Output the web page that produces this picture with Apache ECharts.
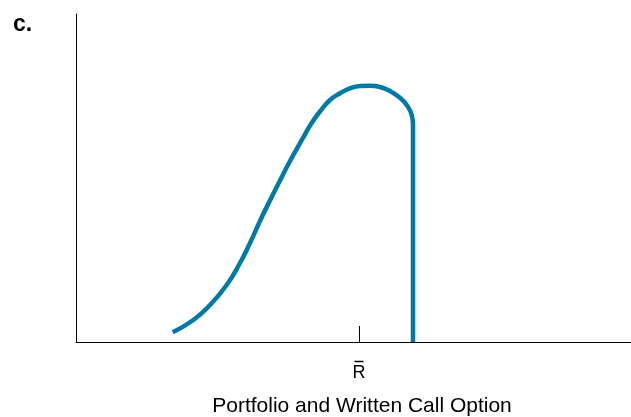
<!DOCTYPE html>
<html>
<head>
<meta charset="utf-8">
<script src="https://cdn.jsdelivr.net/npm/echarts@6/dist/echarts.min.js"></script>
<style>html,body{margin:0;padding:0;background:#fff}#c{width:631px;height:417px}</style>
</head>
<body>
<div id="c"></div>
<script>
// Curve: portfolio plus written call (x = return, y = probability density, arbitrary units)
const curveX = [17.42, 21.14, 24.14, 27.15, 29.55, 31.35, 33.15, 35.26, 36.76, 38.56, 40.90, 42.34, 43.96, 45.77, 47.57, 49.37, 51.17, 52.97, 54.77, 56.58, 58.38, 59.59, 60.49, 60.72];
const curveY = [2.96, 6.71, 11.28, 17.38, 24.09, 30.18, 36.89, 44.21, 49.24, 55.18, 62.20, 66.46, 70.27, 73.78, 75.82, 77.35, 78.05, 78.14, 77.74, 76.52, 74.48, 72.26, 69.21, 66.16];
// Vertical drop at the strike
const dropX = [60.72, 60.72];
const dropY = [66.16, 0];
const rBarValue = 51;
const rBarLabel = 'R';
const panelLabel = 'c.';
const axisTitle = 'Portfolio and Written Call Option';

const chart = echarts.init(document.getElementById('c'), null, {renderer: 'canvas'});
const blue = '#0079a8';
chart.setOption({
  animation: false,
  title: [
    {text: panelLabel, left: 8, top: 8, textStyle: {fontFamily: 'Liberation Sans', fontWeight: 'bold', fontSize: 23, color: '#000'}},
    {text: axisTitle, left: 357, top: 391, textAlign: 'center', textStyle: {fontFamily: 'Liberation Sans', fontWeight: 'normal', fontSize: 21, color: '#000'}}
  ],
  grid: {left: 76, right: 0, top: 14, bottom: 75},
  xAxis: {
    type: 'value', min: 0, max: 100,
    axisLine: {show: true, lineStyle: {color: '#000', width: 1}},
    splitLine: {show: false},
    axisTick: {show: true, inside: true, length: 16, customValues: [rBarValue], lineStyle: {color: '#000', width: 1}},
    axisLabel: {
      show: true, customValues: [rBarValue], margin: 17,
      formatter: () => '{bar| }\n{r|' + rBarLabel + '}',
      rich: {
        bar: {width: 9, height: 1.5, backgroundColor: '#000', lineHeight: 5, fontSize: 2},
        r: {fontFamily: 'Liberation Sans', fontSize: 18, lineHeight: 18, color: '#000'}
      }
    }
  },
  yAxis: {
    type: 'value', min: 0, max: 100,
    axisLine: {show: true, lineStyle: {color: '#000', width: 1}},
    axisTick: {show: false}, axisLabel: {show: false}, splitLine: {show: false}
  },
  series: [
    {type: 'line', data: curveX.map((x, i) => [x, curveY[i]]), smooth: 0.5, symbol: 'none', lineStyle: {color: blue, width: 4.5, cap: 'butt'}},
    {type: 'line', data: dropX.map((x, i) => [x, dropY[i]]), symbol: 'none', lineStyle: {color: blue, width: 4.5}}
  ]
});
</script>
</body>
</html>
